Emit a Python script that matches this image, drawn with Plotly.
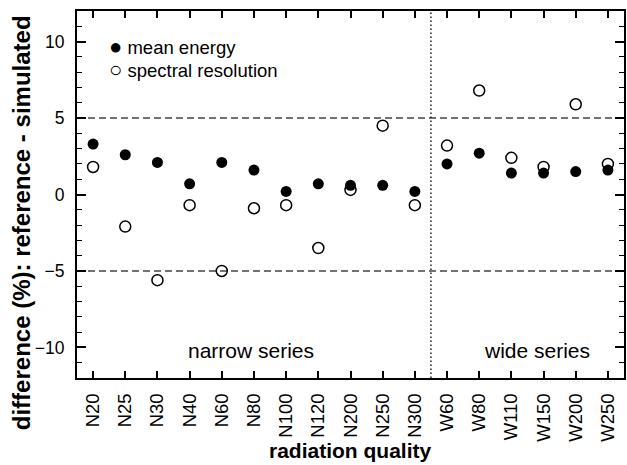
import plotly.graph_objects as go

categories = ["N20", "N25", "N30", "N40", "N60", "N80", "N100", "N120", "N200", "N250", "N300",
              "W60", "W80", "W110", "W150", "W200", "W250"]
mean_energy = [3.3, 2.6, 2.1, 0.7, 2.1, 1.6, 0.2, 0.7, 0.6, 0.6, 0.2,
               2.0, 2.7, 1.4, 1.4, 1.5, 1.6]
spectral_resolution = [1.8, -2.1, -5.6, -0.7, -5.0, -0.9, -0.7, -3.5, 0.3, 4.5, -0.7,
                       3.2, 6.8, 2.4, 1.8, 5.9, 2.0]
y_ticks = [-10, -5, 0, 5, 10]
limits = [-5, 5]

FONT = "Liberation Sans, Arial, sans-serif"

fig = go.Figure()
fig.add_trace(go.Scatter(
    x=categories, y=spectral_resolution, mode="markers", name="spectral resolution",
    marker=dict(symbol="circle-open", size=11, color="black", line=dict(width=1.5, color="black")),
    showlegend=False,
))
fig.add_trace(go.Scatter(
    x=categories, y=mean_energy, mode="markers", name="mean energy",
    marker=dict(symbol="circle", size=11, color="black"),
    showlegend=False,
))

for lim in limits:
    fig.add_shape(type="line", xref="paper", yref="y", x0=0, x1=1, y0=lim, y1=lim,
                  line=dict(color="#444444", width=1.5, dash="7px,4px"), layer="below")
fig.add_shape(type="line", xref="x", yref="paper", x0=10.5, x1=10.5, y0=0, y1=1,
              line=dict(color="#222222", width=1.5, dash="1.5px,2.5px"), layer="below")

# series labels
fig.add_annotation(x=4.9, y=-10.2, xref="x", yref="y", text="narrow series", showarrow=False,
                   font=dict(family=FONT, size=21, color="black"))
fig.add_annotation(x=13.79, y=-10.2, xref="x", yref="y", text="wide series", showarrow=False,
                   font=dict(family=FONT, size=21, color="black"))

# legend (glyph + text)
fig.add_annotation(x=0.055, y=0.9046, xref="paper", yref="paper", xanchor="left", yanchor="middle",
                   text="<span style='font-size:22px'>\u25CF</span> mean energy", showarrow=False,
                   font=dict(family=FONT, size=18.5, color="black"))
fig.add_annotation(x=0.055, y=0.8411, xref="paper", yref="paper", xanchor="left", yanchor="middle",
                   text="<span style='font-size:22px'>\u25CB</span> spectral resolution", showarrow=False,
                   font=dict(family=FONT, size=18.5, color="black"))

# axis titles
fig.add_annotation(x=0.5, y=-0.197, xref="paper", yref="paper", xanchor="center", yanchor="middle",
                   text="<b>radiation quality</b>", showarrow=False,
                   font=dict(family=FONT, size=21, color="black"))
fig.add_annotation(x=-0.1020, y=0.4223, xref="paper", yref="paper", xanchor="center", yanchor="middle",
                   text="<b>difference (%): reference - simulated</b>", showarrow=False, textangle=-90,
                   font=dict(family=FONT, size=24, color="black"))

fig.update_layout(
    width=627, height=465,
    margin=dict(l=77, r=1, t=11, b=87),
    paper_bgcolor="white", plot_bgcolor="white",
    font=dict(family=FONT, size=17.5, color="black"),
    showlegend=False,
    xaxis=dict(
        type="category", categoryorder="array", categoryarray=categories,
        range=[-0.5, 16.5], tickangle=-90,
        showline=True, linecolor="black", linewidth=2, mirror="ticks",
        ticks="inside", ticklen=7, tickwidth=1.5, tickcolor="black",
        showgrid=False, zeroline=False, ticklabelstandoff=6,
        tickfont=dict(size=18.5),
    ),
    yaxis=dict(
        range=[-12, 12], tickvals=y_ticks,
        showline=True, linecolor="black", linewidth=2, mirror="ticks",
        ticks="inside", ticklen=9, tickwidth=1.5, tickcolor="black",
        minor=dict(dtick=1, ticks="inside", ticklen=5, tickwidth=1.2, tickcolor="black", showgrid=False),
        showgrid=False, zeroline=False, ticklabelstandoff=7,
        tickfont=dict(size=17.5),
    ),
    yaxis2=dict(
        range=[-12, 12], tickvals=y_ticks, overlaying="y", side="right", anchor="x",
        showline=False, showticklabels=False,
        ticks="inside", ticklen=9, tickwidth=1.5, tickcolor="black",
        minor=dict(dtick=1, ticks="inside", ticklen=5, tickwidth=1.2, tickcolor="black", showgrid=False),
        showgrid=False, zeroline=False,
    ),
)

fig.write_html("out.html")
